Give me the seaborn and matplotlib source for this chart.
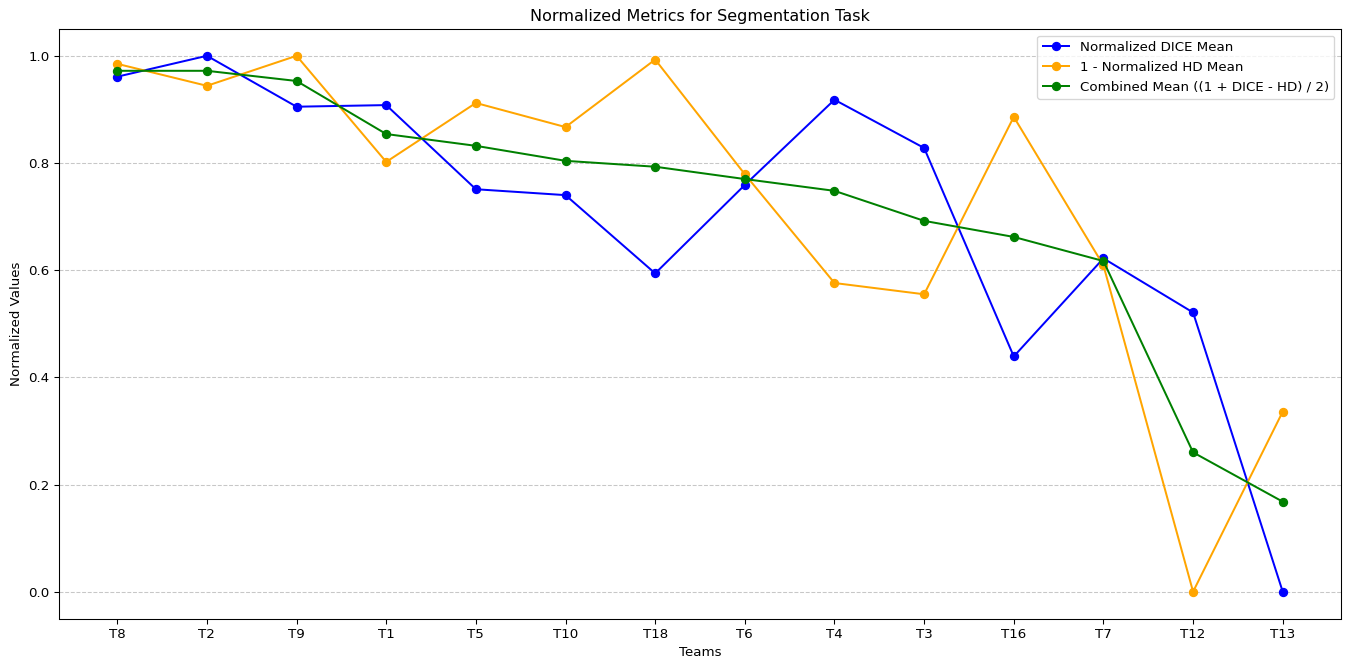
import matplotlib
matplotlib.use("Agg")
import matplotlib.pyplot as plt
import seaborn as sns
import pandas as pd

teams = ["T8", "T2", "T9", "T1", "T5", "T10", "T18", "T6", "T4", "T3", "T16", "T7", "T12", "T13"]
dice = [0.961, 1.0, 0.905, 0.908, 0.751, 0.740, 0.594, 0.759, 0.918, 0.828, 0.439, 0.622, 0.521, 0.0]
hd = [0.985, 0.944, 1.0, 0.802, 0.912, 0.867, 0.993, 0.779, 0.576, 0.555, 0.886, 0.609, 0.0, 0.336]
combined = [0.972, 0.972, 0.953, 0.854, 0.832, 0.804, 0.793, 0.770, 0.748, 0.692, 0.662, 0.617, 0.260, 0.168]

series = [
    ("Normalized DICE Mean", dice, "blue"),
    ("1 - Normalized HD Mean", hd, "orange"),
    ("Combined Mean ((1 + DICE - HD) / 2)", combined, "green"),
]

DPI = 96
W, H = 1346, 659
fig, ax = plt.subplots(figsize=(W / DPI, H / DPI), dpi=DPI)
for label, vals, color in series:
    df = pd.DataFrame({"Team": teams, "Value": vals})
    sns.lineplot(data=df, x="Team", y="Value", ax=ax, label=label, color=color,
                 marker="o", markersize=6, markeredgecolor=color, markeredgewidth=1,
                 sort=False, linewidth=1.5)

ax.set_title("Normalized Metrics for Segmentation Task")
ax.set_xlabel("Teams")
ax.set_ylabel("Normalized Values")
ax.grid(axis="y", linestyle="--", alpha=0.7)
ax.legend(loc="upper right")
fig.subplots_adjust(left=59 / W, right=1341 / W, top=1 - 29 / H, bottom=1 - 618.5 / H)
fig.savefig("out.png", dpi=DPI)
